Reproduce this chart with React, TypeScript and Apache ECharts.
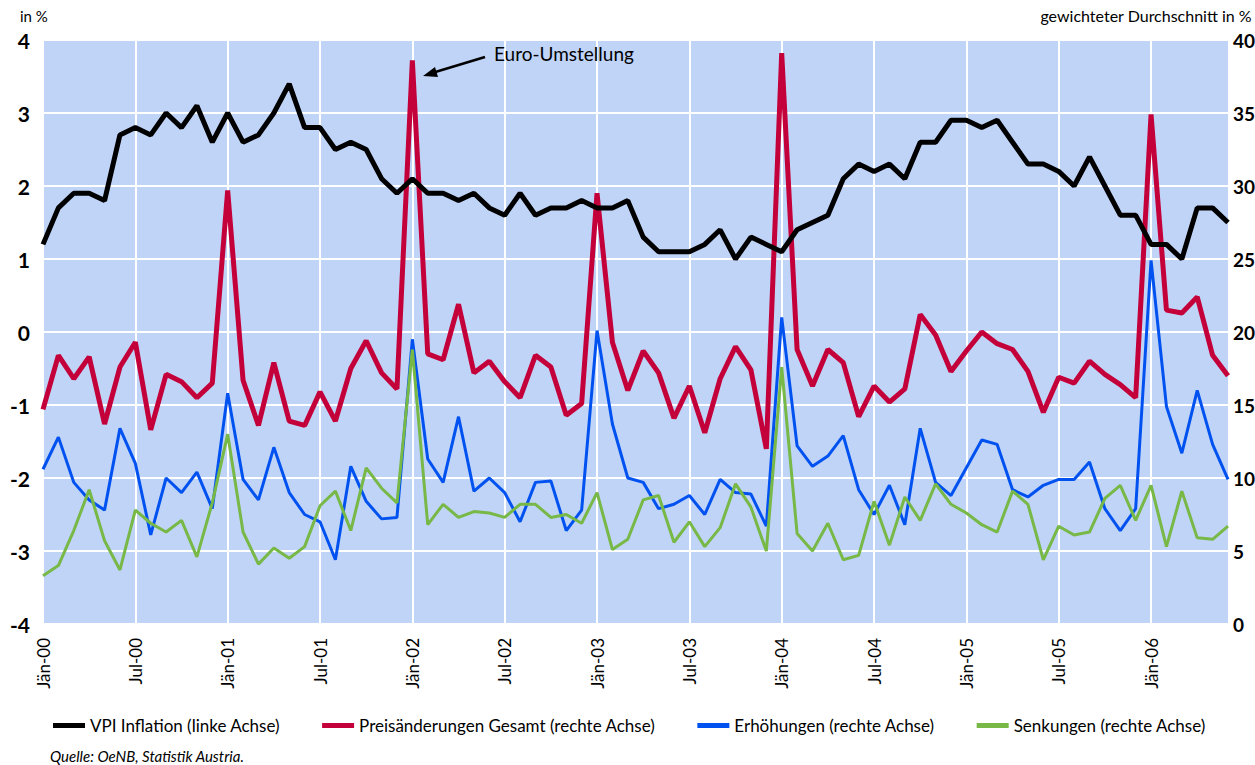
import React, { useEffect, useRef } from "react";
import * as echarts from "echarts";

const monthNames = ["Jän", "Feb", "Mär", "Apr", "Mai", "Jun", "Jul", "Aug", "Sep", "Okt", "Nov", "Dez"];
const years = ["00", "01", "02", "03", "04", "05", "06"];
const monthCount = 78; // Jän-00 .. Jun-06
const categories: string[] = [];
for (let i = 0; i < monthCount; i++) {
  categories.push(monthNames[i % 12] + "-" + years[Math.floor(i / 12)]);
}

const leftTicks = [-4, 4, 1];
const rightTicks = [0, 40, 5];

const vpi = [
  1.2, 1.7, 1.9, 1.9, 1.8, 2.7, 2.8, 2.7, 3.0, 2.8, 3.1, 2.6,
  3.0, 2.6, 2.7, 3.0, 3.4, 2.8, 2.8, 2.5, 2.6, 2.5, 2.1, 1.9,
  2.1, 1.9, 1.9, 1.8, 1.9, 1.7, 1.6, 1.9, 1.6, 1.7, 1.7, 1.8,
  1.7, 1.7, 1.8, 1.3, 1.1, 1.1, 1.1, 1.2, 1.4, 1.0, 1.3, 1.2,
  1.1, 1.4, 1.5, 1.6, 2.1, 2.3, 2.2, 2.3, 2.1, 2.6, 2.6, 2.9,
  2.9, 2.8, 2.9, 2.6, 2.3, 2.3, 2.2, 2.0, 2.4, 2.0, 1.6, 1.6,
  1.2, 1.2, 1.0, 1.7, 1.7, 1.5,
];

const gesamt = [
  14.7, 18.4, 16.8, 18.3, 13.7, 17.6, 19.3, 13.3, 17.1, 16.6, 15.5, 16.5,
  29.7, 16.7, 13.6, 17.9, 13.9, 13.6, 15.9, 13.9, 17.5, 19.4, 17.2, 16.1,
  38.6, 18.5, 18.1, 21.9, 17.2, 18.0, 16.6, 15.5, 18.4, 17.6, 14.3, 15.1,
  29.5, 19.3, 16.0, 18.7, 17.2, 14.1, 16.3, 13.1, 16.8, 19.0, 17.4, 12.0,
  39.1, 18.8, 16.3, 18.8, 17.9, 14.2, 16.3, 15.2, 16.1, 21.2, 19.8, 17.3,
  18.7, 20.0, 19.2, 18.8, 17.3, 14.5, 16.9, 16.5, 18.0, 17.1, 16.4, 15.5,
  34.9, 21.5, 21.3, 22.4, 18.4, 17.0,
];

const erhoehungen = [
  10.6, 12.8, 9.7, 8.5, 7.8, 13.4, 11.0, 6.1, 10.0, 9.0, 10.4, 7.9,
  15.8, 9.9, 8.5, 12.1, 9.0, 7.5, 7.0, 4.4, 10.8, 8.4, 7.2, 7.3,
  19.5, 11.3, 9.7, 14.2, 9.1, 10.0, 9.0, 7.0, 9.7, 9.8, 6.4, 7.8,
  20.1, 13.7, 10.0, 9.7, 7.9, 8.2, 8.8, 7.5, 9.9, 9.0, 8.9, 6.7,
  21.0, 12.2, 10.8, 11.5, 12.9, 9.2, 7.5, 9.5, 6.8, 13.4, 9.7, 8.8,
  10.7, 12.6, 12.3, 9.2, 8.7, 9.5, 9.9, 9.9, 11.1, 7.9, 6.4, 7.9,
  24.9, 14.9, 11.7, 16.0, 12.3, 9.9,
];

const senkungen = [
  3.3, 4.0, 6.4, 9.2, 5.7, 3.7, 7.8, 6.9, 6.3, 7.1, 4.6, 8.3,
  13.0, 6.3, 4.1, 5.2, 4.5, 5.3, 8.1, 9.1, 6.4, 10.7, 9.3, 8.3,
  18.8, 6.8, 8.2, 7.3, 7.7, 7.6, 7.3, 8.2, 8.2, 7.3, 7.5, 6.9,
  9.0, 5.1, 5.8, 8.5, 8.8, 5.6, 7.0, 5.3, 6.6, 9.6, 8.0, 5.0,
  17.6, 6.2, 5.0, 6.9, 4.4, 4.7, 8.4, 5.4, 8.7, 7.1, 9.6, 8.2,
  7.6, 6.8, 6.3, 9.1, 8.2, 4.4, 6.7, 6.1, 6.3, 8.6, 9.5, 7.1,
  9.5, 5.3, 9.1, 5.9, 5.8, 6.7,
];

const seriesNames = [
  "VPI Inflation (linke Achse)",
  "Preisänderungen Gesamt (rechte Achse)",
  "Erhöhungen (rechte Achse)",
  "Senkungen (rechte Achse)",
];
const colors = ["#000000", "#C4003A", "#0052F0", "#77B847"];

const FONT = "Lato, 'Open Sans', sans-serif";

export default function App() {
  const ref = useRef<HTMLDivElement>(null);
  useEffect(() => {
    if (!ref.current) return;
    const chart = echarts.init(ref.current, undefined, { renderer: "svg" });
    chart.setOption({
      animation: false,
      backgroundColor: "#ffffff",
      grid: {
        left: 43,
        right: 27,
        top: 40,
        bottom: 141,
        show: true,
        backgroundColor: "#C0D4F8",
        borderWidth: 0,
        containLabel: false,
        outerBoundsMode: "none",
      },
      legend: {
        bottom: 26,
        left: 48,
        itemGap: 42,
        itemWidth: 32,
        itemHeight: 5,
        icon: "rect",
        data: seriesNames,
        textStyle: { fontFamily: FONT, fontSize: 17, color: "#000" },
      },
      xAxis: {
        type: "category",
        data: categories,
        boundaryGap: false,
        axisLine: { show: false },
        axisTick: { show: false },
        axisLabel: {
          interval: 5,
          rotate: 90,
          margin: 14,
          fontFamily: FONT,
          fontSize: 17,
          color: "#000",
        },
        splitLine: { show: true, interval: 5, lineStyle: { color: "#ffffff", width: 2 } },
      },
      yAxis: [
        {
          type: "value",
          min: leftTicks[0],
          max: leftTicks[1],
          interval: leftTicks[2],
          position: "left",
          axisLine: { show: false },
          axisTick: { show: false },
          axisLabel: {
            margin: 13,
            fontFamily: FONT,
            fontWeight: "bold",
            fontSize: 21,
            color: "#000",
          },
          splitLine: { show: true, lineStyle: { color: "#ffffff", width: 2 } },
        },
        {
          type: "value",
          min: rightTicks[0],
          max: rightTicks[1],
          interval: rightTicks[2],
          position: "right",
          axisLine: { show: false },
          axisTick: { show: false },
          axisLabel: {
            margin: 5,
            fontFamily: FONT,
            fontWeight: "bold",
            fontSize: 19,
            color: "#000",
          },
          splitLine: { show: false },
        },
      ],
      series: [
        {
          name: seriesNames[0],
          type: "line",
          data: vpi,
          yAxisIndex: 0,
          symbol: "none",
          z: 5,
          lineStyle: { color: colors[0], width: 5 },
          itemStyle: { color: colors[0] },
        },
        {
          name: seriesNames[1],
          type: "line",
          data: gesamt,
          yAxisIndex: 1,
          symbol: "none",
          z: 4,
          lineStyle: { color: colors[1], width: 5 },
          itemStyle: { color: colors[1] },
        },
        {
          name: seriesNames[2],
          type: "line",
          data: erhoehungen,
          yAxisIndex: 1,
          symbol: "none",
          z: 3,
          lineStyle: { color: colors[2], width: 3 },
          itemStyle: { color: colors[2] },
        },
        {
          name: seriesNames[3],
          type: "line",
          data: senkungen,
          yAxisIndex: 1,
          symbol: "none",
          z: 3,
          lineStyle: { color: colors[3], width: 3 },
          itemStyle: { color: colors[3] },
        },
      ],
      graphic: [
        {
          type: "text",
          left: 20,
          top: 8,
          style: { text: "in %", font: `15px ${FONT}`, fill: "#000" },
        },
        {
          type: "text",
          right: 3,
          top: 7,
          style: { text: "gewichteter Durchschnitt in %", font: `16px ${FONT}`, fill: "#000" },
        },
        {
          type: "text",
          left: 494,
          top: 44,
          z: 10,
          style: { text: "Euro-Umstellung", font: `19px ${FONT}`, fill: "#000" },
        },
        {
          type: "line",
          z: 10,
          shape: { x1: 485, y1: 57, x2: 432, y2: 73 },
          style: { stroke: "#000", lineWidth: 2.5 },
        },
        {
          type: "polygon",
          z: 10,
          shape: { points: [[423, 76], [435, 67], [438, 77]] },
          style: { fill: "#000" },
        },
        {
          type: "text",
          left: 50,
          top: 748,
          style: { text: "Quelle: OeNB, Statistik Austria.", font: `italic 15px ${FONT}`, fill: "#000" },
        },
      ],
    });
    return () => chart.dispose();
  }, []);
  return (
    <div
      ref={ref}
      style={{ position: "fixed", left: 0, top: 0, width: 1255, height: 765 }}
    />
  );
}
